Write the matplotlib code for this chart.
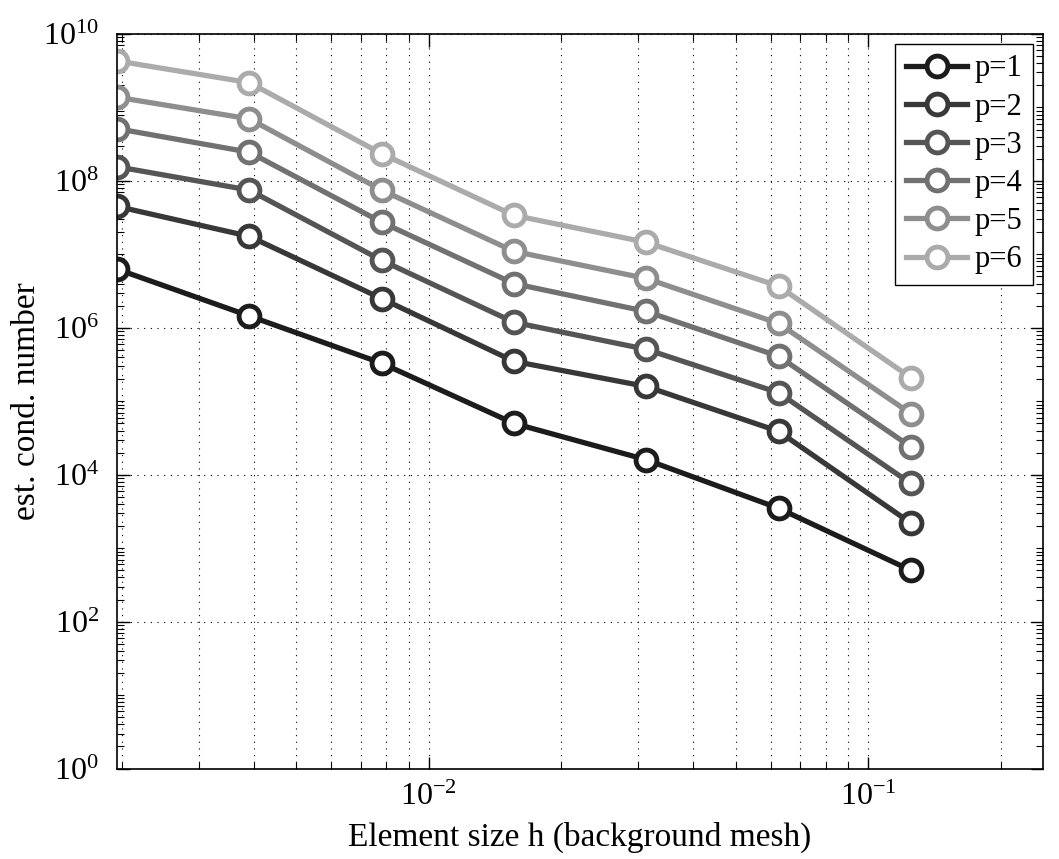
import matplotlib
matplotlib.use("Agg")
import matplotlib.pyplot as plt
from matplotlib.ticker import LogLocator, NullFormatter
import numpy as np

# element sizes h = 1/512 ... 1/8
h = [1/512, 1/256, 1/128, 1/64, 1/32, 1/16, 1/8]

cond_p1 = [6.3e6, 1.45e6, 3.3e5, 5.0e4, 1.6e4, 3.5e3, 5.0e2]
cond_p2 = [4.5e7, 1.76e7, 2.5e6, 3.5e5, 1.59e5, 3.9e4, 2.2e3]
cond_p3 = [1.56e8, 7.5e7, 8.3e6, 1.19e6, 5.1e5, 1.31e5, 7.6e3]
cond_p4 = [5.15e8, 2.46e8, 2.74e7, 4.0e6, 1.67e6, 4.1e5, 2.4e4]
cond_p5 = [1.38e9, 7.0e8, 7.5e7, 1.1e7, 4.7e6, 1.15e6, 6.8e4]
cond_p6 = [4.3e9, 2.18e9, 2.35e8, 3.4e7, 1.46e7, 3.7e6, 2.1e5]

labels = ["p=1", "p=2", "p=3", "p=4", "p=5", "p=6"]
greys = ["#1c1c1c", "#383838", "#555555", "#717171", "#8e8e8e", "#ababab"]

plt.rcParams["font.family"] = ["Liberation Serif", "DejaVu Serif"]
plt.rcParams["mathtext.fontset"] = "stix"

fig = plt.figure(figsize=(10.59, 8.59), dpi=100)
ax = fig.add_axes([0.1105, 0.1053, 0.8745, 0.8551])

series = [cond_p1, cond_p2, cond_p3, cond_p4, cond_p5, cond_p6]
for vals, lab, col in zip(series, labels, greys):
    ax.plot(h, vals, "-o", color=col, lw=3.8, ms=15, mew=3.5,
            mfc="white", mec=col, label=lab)

ax.set_xscale("log")
ax.set_yscale("log")
ax.set_xlim(1/512, 1/4)
ax.set_ylim(1, 1e10)

ax.set_yticks([1e0, 1e2, 1e4, 1e6, 1e8, 1e10])
ax.yaxis.set_minor_locator(LogLocator(base=10, subs=np.arange(1, 10), numticks=50))
ax.yaxis.set_minor_formatter(NullFormatter())
ax.xaxis.set_minor_locator(LogLocator(base=10, subs=np.arange(2, 10), numticks=50))
ax.xaxis.set_minor_formatter(NullFormatter())

ax.tick_params(which="both", direction="in", top=True, right=True, labelsize=23)
ax.tick_params(which="major", length=9, width=1)
ax.tick_params(which="minor", length=5, width=0.8)
ax.tick_params(axis="x", pad=10)
ax.tick_params(axis="y", pad=13)

grid_style = dict(color="black", linestyle=(0, (1, 5)), linewidth=0.8)
ax.grid(True, which="major", axis="both", **grid_style)
ax.grid(True, which="minor", axis="x", **grid_style)

for sp in ax.spines.values():
    sp.set_linewidth(1.2)

ax.set_xlabel("Element size h (background mesh)", fontsize=24)
ax.set_ylabel("est. cond. number", fontsize=24)
ax.xaxis.set_label_coords(0.5, -0.073)
ax.yaxis.set_label_coords(-0.081, 0.5)

leg = ax.legend(loc="upper right", fontsize=22, handlelength=2.0,
                labelspacing=0.3, borderaxespad=0.32, handletextpad=0.25,
                borderpad=0.35, fancybox=False, framealpha=1)
leg.get_frame().set_edgecolor("black")
leg.get_frame().set_linewidth(1.0)

fig.savefig("out.png", dpi=100)
